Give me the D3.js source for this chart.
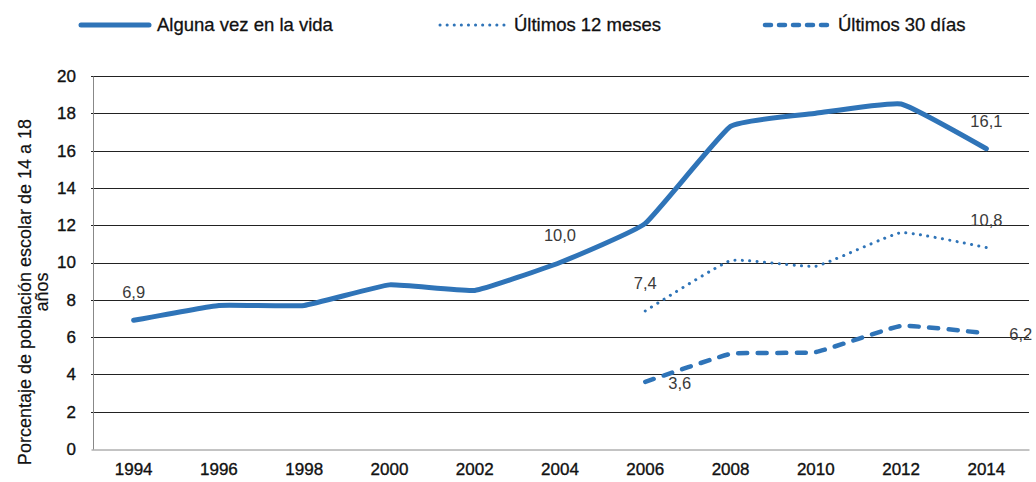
<!DOCTYPE html>
<html>
<head>
<meta charset="utf-8">
<script src="https://cdn.jsdelivr.net/npm/d3@7"></script>
<style>
  body { margin: 0; background: #fff; }
  text { font-family: "Liberation Sans", Arial, sans-serif; }
</style>
</head>
<body>
<script>
// data
var years = ["1994", "1996", "1998", "2000", "2002", "2004", "2006", "2008", "2010", "2012", "2014"];
var alguna = [6.9, 7.7, 7.7, 8.8, 8.5, 10.0, 12.1, 17.3, 18.0, 18.5, 16.1];
var meses12 = [null, null, null, null, null, null, 7.4, 10.1, 9.8, 11.6, 10.8];
var dias30 = [null, null, null, null, null, null, 3.6, 5.1, 5.2, 6.6, 6.2];
var seriesNames = ["Alguna vez en la vida", "Últimos 12 meses", "Últimos 30 días"];
var yTicks = [0, 2, 4, 6, 8, 10, 12, 14, 16, 18, 20];
var yTitle = ["Porcentaje de población escolar de 14 a 18", "años"];
// which points carry a value label
var labelled = [["1994", "2004", "2014"], ["2006", "2014"], ["2006", "2014"]];

var W = 1036, H = 482;
var margin = {top: 76, right: 7, bottom: 33, left: 91};
var width = W - margin.left - margin.right,
    height = H - margin.top - margin.bottom;
var blue = "#2f74b8";

var svg = d3.select("body").append("svg")
    .attr("width", W)
    .attr("height", H);

var g = svg.append("g")
    .attr("transform", "translate(" + margin.left + "," + margin.top + ")");

var x = d3.scaleBand().domain(years).range([0, width]);
var y = d3.scaleLinear().domain([0, 20]).range([height, 0]);
var cx = function(yr) { return x(yr) + x.bandwidth() / 2; };

// gridlines
g.selectAll(".grid")
  .data(yTicks.filter(function(t) { return t > 0; }))
  .enter().append("line")
    .attr("x1", 0).attr("x2", width)
    .attr("y1", function(d) { return Math.round(y(d)) + 0.5; })
    .attr("y2", function(d) { return Math.round(y(d)) + 0.5; })
    .attr("stroke", "#222")
    .attr("stroke-width", 1);

// axes
var yAxis = g.append("g")
  .attr("transform", "translate(2,0)")
  .call(d3.axisLeft(y).tickValues(yTicks).tickSize(0).tickPadding(17));
yAxis.select(".domain").attr("stroke", "#888");
yAxis.selectAll("text").attr("font-size", 17).attr("fill", "#111")
  .attr("stroke", "#111").attr("stroke-width", 0.35)
  .attr("font-family", "Liberation Sans, Arial, sans-serif");

var xAxis = g.append("g")
  .attr("transform", "translate(0," + (Math.round(height) + 0.5) + ")")
  .call(d3.axisBottom(x).tickSize(0).tickPadding(13));
xAxis.select(".domain").attr("stroke", "#888");
xAxis.selectAll("text").attr("font-size", 17).attr("fill", "#111")
  .attr("stroke", "#111").attr("stroke-width", 0.35)
  .attr("font-family", "Liberation Sans, Arial, sans-serif");

// y title
var yt = svg.append("text")
  .attr("transform", "translate(31,292) rotate(-90)")
  .attr("text-anchor", "middle")
  .attr("font-size", 18)
  .attr("fill", "#111")
  .attr("stroke", "#111").attr("stroke-width", 0.2);
yt.selectAll("tspan").data(yTitle).enter().append("tspan")
  .attr("x", 0)
  .attr("dy", function(d, i) { return i === 0 ? 0 : 17; })
  .text(function(d) { return d; });

// series
var styles = [
  {width: 5, dash: null, legendDash: null},
  {width: 3, dash: "0.1 7.3", legendDash: "0.1 7"},
  {width: 4.5, dash: "9 10.5", legendDash: "6 8"}
];
var allSeries = [alguna, meses12, dias30].map(function(vals, i) {
  return {
    name: seriesNames[i],
    style: styles[i],
    labels: labelled[i],
    points: years.map(function(yr, j) { return {year: yr, value: vals[j]}; })
      .filter(function(p) { return p.value !== null; })
  };
});

var line = d3.line()
  .x(function(d) { return cx(d.year); })
  .y(function(d) { return y(d.value); })
  .curve(d3.curveCardinal.tension(0.65));

g.selectAll(".series")
  .data(allSeries)
  .enter().append("path")
    .attr("class", "series")
    .attr("fill", "none")
    .attr("stroke", blue)
    .attr("stroke-width", function(d) { return d.style.width; })
    .attr("stroke-linecap", "round")
    .attr("stroke-linejoin", "round")
    .attr("stroke-dasharray", function(d) { return d.style.dash; })
    .attr("d", function(d) { return line(d.points); });

// value labels: above the point, except the 30-day series which sits to the right
allSeries.forEach(function(s, i) {
  var pts = s.points.filter(function(p) { return s.labels.indexOf(p.year) >= 0; });
  g.selectAll(".lbl" + i)
    .data(pts)
    .enter().append("text")
      .attr("font-size", 16.5)
      .attr("fill", "#3a3a3a")
      .attr("text-anchor", i === 2 ? "start" : "middle")
      .attr("x", function(p) { return cx(p.year) + (i === 2 ? 23 : 0); })
      .attr("y", function(p) { return y(p.value) + (i === 2 ? 7 : -22); })
      .text(function(p) { return d3.format(".1f")(p.value).replace(".", ","); });
});

// legend
var legendX = [79, 438, 763];
var legend = svg.selectAll(".legend")
  .data(allSeries)
  .enter().append("g")
    .attr("transform", function(d, i) { return "translate(" + legendX[i] + ",25)"; });
legend.append("line")
  .attr("x1", 2).attr("x2", 70)
  .attr("stroke", blue)
  .attr("stroke-width", function(d) { return d.style.width; })
  .attr("stroke-linecap", "round")
  .attr("stroke-dasharray", function(d) { return d.style.legendDash; });
legend.append("text")
  .attr("x", function(d, i) { return [78, 76, 75][i]; })
  .attr("y", 6)
  .attr("font-size", 18.5)
  .attr("fill", "#111")
  .attr("stroke", "#111").attr("stroke-width", 0.3)
  .text(function(d) { return d.name; });
</script>
</body>
</html>
